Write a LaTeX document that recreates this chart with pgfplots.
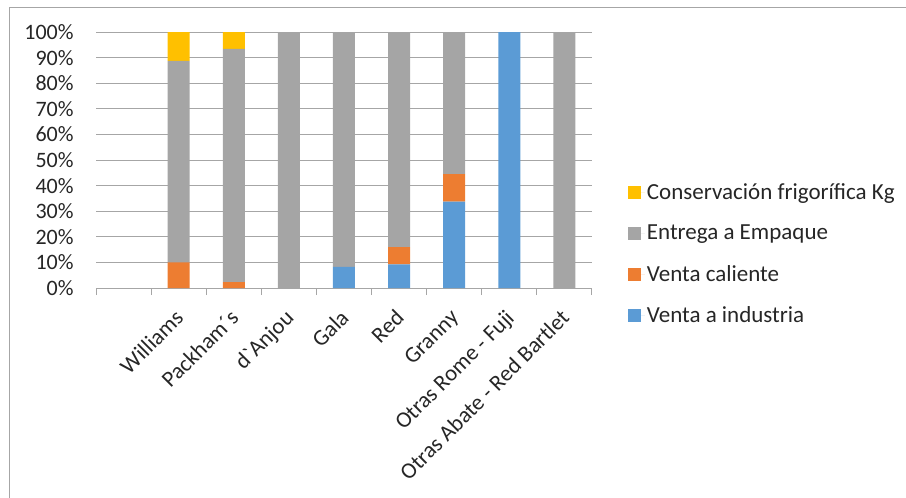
\documentclass[border=0pt]{standalone}
\usepackage{pgfplots}
\pgfplotsset{compat=1.18}
\usepackage{pgfplotstable}
\usepackage{fontspec}
\setmainfont{Carlito}[Ligatures=TeXOff]

\definecolor{cCons}{HTML}{FFC000}
\definecolor{cEmp}{HTML}{A5A5A5}
\definecolor{cCal}{HTML}{ED7D31}
\definecolor{cInd}{HTML}{5B9BD5}
\definecolor{cGrid}{HTML}{A6A6A6}
\definecolor{cTxt}{HTML}{262626}

% Share of each destination per variety (percent)
\pgfplotstableread{
idx ind  cal  emp   con
0   0    0    0     0
1   0    10.0 78.7  11.3
2   0    2.3  91.1  6.6
3   0    0    100   0
4   8.3  0    91.7  0
5   9.2  6.8  84.0  0
6   33.7 10.8 55.5  0
7   100  0    0     0
8   0    0    100   0
}\datos

\begin{document}
\begin{tikzpicture}
\useasboundingbox (0pt,0pt) rectangle (906pt,-498pt);
\draw[cGrid,line width=1pt] (9pt,-498pt) -- (9pt,-7pt) -- (906pt,-7pt);
\begin{axis}[
  at={(96pt,-288pt)}, anchor=south west,
  scale only axis, width=496pt, height=256pt,
  xmin=-0.5, xmax=8.5, ymin=0, ymax=100,
  ybar stacked, bar width=22pt,
  axis x line*=bottom, axis y line*=left,
  x axis line style={cGrid,line width=1pt,-},
  y axis line style={draw=none},
  ymajorgrids, grid style={cGrid,line width=1pt},
  ytick={0,10,...,100},
  major y tick style={draw=none},
  yticklabel={\pgfmathprintnumber{\tick}\%},
  /pgf/number format/assume math mode=true,
  yticklabel style={font=\fontsize{22}{26}\selectfont, text=cTxt, inner sep=0pt, xshift=-18pt},
  xtick={0,...,8},
  xticklabels={,Williams,Packham´s,d`Anjou,Gala,Red,Granny,Otras Rome - Fuji,Otras Abate - Red Bartlet},
  major x tick style={draw=none},
  minor xtick={-0.5,0.5,...,8.5},
  minor x tick style={cGrid,line width=1pt},
  tick align=outside,
  minor tick length=7pt,
  xticklabel style={font=\fontsize{22.6}{27}\selectfont, text=cTxt, xshift=-5pt, yshift=-13pt, rotate=45, anchor=north east, inner sep=2pt},
  legend style={at={(1.066,0.133)}, anchor=west, draw=none, fill=none,
    font=\fontsize{23}{27}\selectfont, text=cTxt, row sep=20pt,
    nodes={inner sep=2pt}},
  legend cell align=left,
  reverse legend,
  legend image code/.code={\fill[#1] (0pt,-6.5pt) rectangle (13pt,6.5pt); \path (0pt,0pt) -- (17pt,0pt);},
]
\addplot[fill=cInd,draw=none] table[x=idx,y=ind]{\datos};
\addplot[fill=cCal,draw=none] table[x=idx,y=cal]{\datos};
\addplot[fill=cEmp,draw=none] table[x=idx,y=emp]{\datos};
\addplot[fill=cCons,draw=none] table[x=idx,y=con]{\datos};
\legend{Venta a industria,Venta caliente,Entrega a Empaque,Conservación frigorífica Kg}
\end{axis}
\end{tikzpicture}
\end{document}
